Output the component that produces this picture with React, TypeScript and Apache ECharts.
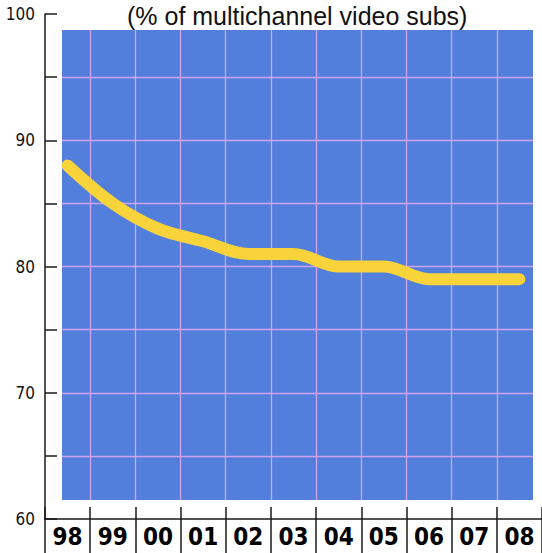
import React, { useEffect, useRef } from "react";
import * as echarts from "echarts";

const titleText = "(% of multichannel video subs)";
const years = ["98", "99", "00", "01", "02", "03", "04", "05", "06", "07", "08"];
const share = [88, 85, 83, 82, 81, 81, 80, 80, 79, 79, 79];
const yMin = 60;
const yMax = 100;
const yStep = 5;

export default function App() {
  const ref = useRef<HTMLDivElement>(null);
  useEffect(() => {
    if (!ref.current) return;
    const chart = echarts.init(ref.current, null, { renderer: "svg" });
    const gridBox = { left: 45, top: 14, width: 506, height: 505 };
    const narrow = "'Liberation Sans Narrow', 'DejaVu Sans Condensed', 'Liberation Sans', sans-serif";
    const white = { fill: "#ffffff" };
    chart.setOption({
      animation: false,
      backgroundColor: "#ffffff",
      title: {
        text: titleText,
        left: 122,
        top: -2,
        textStyle: { fontFamily: "'Liberation Sans', Arial, sans-serif", fontSize: 25, fontWeight: "normal", color: "#111" },
      },
      graphic: [
        { type: "rect", z: -5, shape: { x: 62, y: 30, width: 471, height: 470 }, style: { fill: "#527fdb" } },
        { type: "rect", z: 2, shape: { x: 40, y: 10, width: 520, height: 20 }, style: white },
        { type: "rect", z: 2, shape: { x: 40, y: 500, width: 520, height: 30 }, style: white },
        { type: "rect", z: 2, shape: { x: 40, y: 10, width: 22, height: 520 }, style: white },
        { type: "rect", z: 2, shape: { x: 533, y: 10, width: 30, height: 520 }, style: white },
      ],
      grid: [
        { ...gridBox, show: false },
        { ...gridBox, show: false },
        { ...gridBox, show: false },
      ],
      xAxis: [
        {
          gridIndex: 0, type: "category", data: years, boundaryGap: true, z: 1,
          axisLine: { show: false }, axisTick: { show: false }, axisLabel: { show: false },
          splitLine: { show: true, interval: 0, lineStyle: { color: "#d3a3ee", width: 1.3 } },
        },
        {
          gridIndex: 1, type: "category", data: years, boundaryGap: true, z: 3,
          axisLine: { show: true, lineStyle: { color: "#1a1a1a", width: 1.5 } },
          axisTick: { show: true, interval: 0, inside: false, length: 34, lineStyle: { color: "#1a1a1a", width: 1.5 } },
          axisLabel: { interval: 0, margin: 6, fontFamily: narrow, fontWeight: "bold", fontSize: 24, color: "#000" },
          splitLine: { show: false },
        },
        {
          gridIndex: 2, type: "category", data: years, boundaryGap: true, z: 3,
          axisLine: { show: false },
          axisTick: { show: true, interval: 0, inside: true, length: 12, lineStyle: { color: "#1a1a1a", width: 1.5 } },
          axisLabel: { show: false },
          splitLine: { show: false },
        },
      ],
      yAxis: [
        {
          gridIndex: 0, type: "value", min: yMin, max: yMax, interval: yStep, z: 1,
          axisLine: { show: false }, axisTick: { show: false }, axisLabel: { show: false },
          splitLine: { show: true, lineStyle: { color: "#d3a3ee", width: 1.3 } },
        },
        {
          gridIndex: 1, type: "value", min: yMin, max: yMax, interval: yStep, z: 3,
          axisLine: { show: true, lineStyle: { color: "#1a1a1a", width: 1.5 } },
          axisTick: { show: true, inside: true, length: 12, lineStyle: { color: "#1a1a1a", width: 1.5 } },
          axisLabel: {
            margin: 10, fontFamily: narrow, fontSize: 17, color: "#111",
            formatter: (v: number) => (v % 10 === 0 ? String(v) : ""),
          },
          splitLine: { show: false },
        },
        {
          gridIndex: 2, type: "value", min: yMin, max: yMax, interval: yStep,
          axisLine: { show: false }, axisTick: { show: false }, axisLabel: { show: false }, splitLine: { show: false },
        },
      ],
      series: [
        {
          type: "line",
          xAxisIndex: 1,
          yAxisIndex: 1,
          data: share,
          z: 4,
          smooth: 0.35,
          symbol: "none",
          lineStyle: { color: "#f8d43a", width: 12, cap: "round", join: "round" },
        },
      ],
    });
    return () => chart.dispose();
  }, []);
  return <div ref={ref} style={{ width: 542, height: 553, position: "absolute", left: 0, top: 0 }} />;
}
